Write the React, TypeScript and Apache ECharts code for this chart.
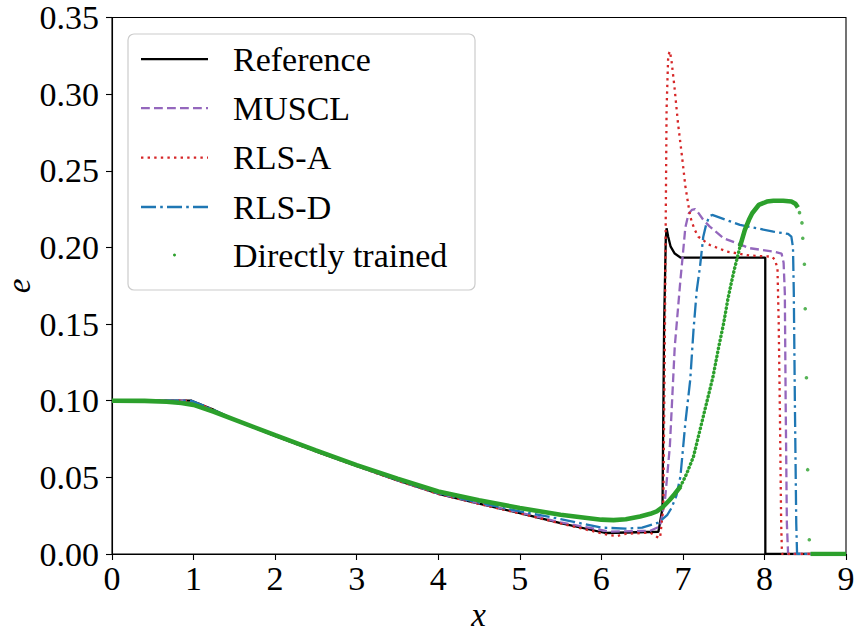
import React, { useEffect, useRef } from "react";
import * as echarts from "echarts";

const FONT = "Liberation Serif, serif";

// Reference (black solid)
const refX = [0, 0.975, 1.25, 1.5, 2, 2.5, 3, 3.5, 4, 4.5, 5, 5.5, 6.05, 6.7, 6.75, 6.77, 6.79, 6.8, 6.82, 6.85, 6.9, 6.97, 8.01, 8.011, 9];
const refE = [0.1, 0.1, 0.094, 0.0875, 0.0771, 0.067, 0.0574, 0.048, 0.0393, 0.0328, 0.0267, 0.0202, 0.0137, 0.0145, 0.03, 0.15, 0.205, 0.2125, 0.207, 0.2005, 0.196, 0.1934, 0.1934, 0, 0];

// MUSCL (purple dashed)
const muX = [0, 0.93, 1.03, 1.25, 1.5, 2, 2.5, 3, 3.5, 4, 4.5, 5, 5.5, 6.1, 6.6, 6.72, 6.78, 6.84, 6.9, 6.97, 6.99, 7.03, 7.07, 7.11, 7.15, 7.19, 7.25, 7.33, 7.5, 7.82, 8.11, 8.21, 8.235, 8.25, 8.26, 8.275, 8.29, 9];
const muE = [0.1, 0.1, 0.098, 0.0938, 0.0876, 0.0772, 0.0671, 0.0575, 0.0481, 0.0395, 0.033, 0.027, 0.0206, 0.0146, 0.0152, 0.018, 0.035, 0.07, 0.135, 0.179, 0.19, 0.213, 0.222, 0.2245, 0.225, 0.2225, 0.218, 0.2136, 0.206, 0.1995, 0.1973, 0.196, 0.19, 0.17, 0.1, 0.02, 0, 0];

// RLS-A (red dotted)
const raX = [0, 0.975, 1.25, 1.5, 2, 2.5, 3, 3.5, 4, 4.5, 5, 5.5, 6.1, 6.2, 6.3, 6.6, 6.68, 6.72, 6.76, 6.78, 6.8, 6.82, 6.84, 6.86, 6.9, 6.94, 6.99, 7.03, 7.09, 7.14, 7.19, 7.33, 7.54, 7.82, 8.09, 8.13, 8.16, 8.175, 8.19, 8.205, 8.215, 9];
const raE = [0.1, 0.1, 0.0938, 0.0874, 0.077, 0.0669, 0.0573, 0.0479, 0.0392, 0.0327, 0.0265, 0.0199, 0.0123, 0.0118, 0.0132, 0.0139, 0.0112, 0.0104, 0.03, 0.15, 0.29, 0.325, 0.328, 0.322, 0.303, 0.281, 0.259, 0.24, 0.22, 0.212, 0.207, 0.2016, 0.1973, 0.1947, 0.194, 0.192, 0.186, 0.15, 0.09, 0.02, 0, 0];

// RLS-D (blue dash-dot)
const rdX = [0, 0.975, 1.25, 1.5, 2, 2.5, 3, 3.5, 4, 4.5, 4.8, 5, 5.5, 6, 6.3, 6.5, 6.7, 6.81, 6.86, 6.92, 6.97, 7.03, 7.09, 7.13, 7.17, 7.21, 7.25, 7.29, 7.33, 7.36, 7.7, 8.11, 8.29, 8.33, 8.35, 8.36, 8.375, 8.39, 8.4, 9];
const rdE = [0.1, 0.1, 0.0939, 0.0875, 0.0772, 0.0672, 0.0577, 0.0484, 0.0398, 0.0335, 0.03, 0.0278, 0.0228, 0.0172, 0.0166, 0.0172, 0.0205, 0.0256, 0.03, 0.038, 0.0506, 0.0854, 0.1136, 0.146, 0.172, 0.1875, 0.207, 0.216, 0.2205, 0.2212, 0.2147, 0.2103, 0.2088, 0.207, 0.2, 0.17, 0.09, 0.02, 0, 0];

// Directly trained (green dots): dense part, steep part, plateau, sparse drop, tail
const gAX = [0, 0.4, 0.67, 0.85, 1, 1.25, 1.5, 2, 2.5, 3, 3.5, 4, 4.5, 5, 5.5, 6, 6.15, 6.3, 6.475, 6.6, 6.68, 6.76, 6.84, 6.9, 6.97];
const gAE = [0.1, 0.0999, 0.0993, 0.0985, 0.0973, 0.0928, 0.0877, 0.0775, 0.0676, 0.058, 0.0492, 0.0408, 0.0351, 0.03, 0.0256, 0.0224, 0.0221, 0.0227, 0.0245, 0.0262, 0.0278, 0.031, 0.0354, 0.0392, 0.044];
const gBX = [6.97, 7.05, 7.13, 7.21, 7.29, 7.37, 7.44, 7.5, 7.55, 7.59, 7.63, 7.66, 7.7];
const gBE = [0.044, 0.0528, 0.0636, 0.081, 0.0984, 0.1158, 0.1353, 0.1506, 0.1658, 0.176, 0.1855, 0.1918, 0.2005];
const gCX = [7.7, 7.76, 7.81, 7.85, 7.93, 8.03, 8.11, 8.23, 8.33, 8.38, 8.41];
const gCE = [0.2005, 0.2114, 0.218, 0.2223, 0.2277, 0.2299, 0.2305, 0.2305, 0.23, 0.2285, 0.226];
const gDotX = [8.43, 8.46, 8.47, 8.49, 8.5, 8.515, 8.53, 8.55];
const gDotE = [0.2227, 0.216, 0.206, 0.189, 0.16, 0.115, 0.055, 0.0093];
const gTailX = [8.565, 9];
const gTailE = [0, 0];

const legendNames = ["Reference", "MUSCL", "RLS-A", "RLS-D", "Directly trained"];
const xAxisName = "x";
const yAxisName = "e";

const BLACK = "#000000";
const PURPLE = "#9467bd";
const RED = "#d62728";
const BLUE = "#1f77b4";
const GREEN = "#2ca02c";

const LW = 2.3;
const DASHED = [8.8, 4.2];
const DOTTED = [2.4, 4.2];
const DASHDOT = [15, 4.2, 2.6, 4.2];

const zip = (xs: number[], ys: number[]) => xs.map((x, i) => [x, ys[i]]);

function lineSeries(name: string, xs: number[], ys: number[], color: string, type: any, width: number, extra: any = {}) {
  return {
    name,
    type: "line",
    data: zip(xs, ys),
    symbol: "none",
    showSymbol: false,
    lineStyle: { color, width, type, ...(extra.lineStyle || {}) },
    itemStyle: { color },
    emphasis: { disabled: true },
    z: extra.z ?? 2,
  };
}

export default function App() {
  const ref = useRef<HTMLDivElement>(null);

  useEffect(() => {
    if (!ref.current) return;
    const chart = echarts.init(ref.current, null, { renderer: "svg" });

    const legendY = [59.2, 108.2, 157.6, 207, 255.6];
    const legendStyles = [
      { color: BLACK, dash: null },
      { color: PURPLE, dash: DASHED },
      { color: RED, dash: DOTTED },
      { color: BLUE, dash: DASHDOT },
    ];

    const graphic: any[] = [
      {
        type: "rect",
        shape: { x: 128, y: 34, width: 347, height: 256, r: 6 },
        style: { fill: "rgba(255,255,255,0.85)", stroke: "#cccccc", lineWidth: 1.2 },
        z: 100,
      },
      {
        type: "text",
        x: 478.5,
        y: 614.5,
        style: {
          text: xAxisName,
          fontFamily: FONT,
          fontStyle: "italic",
          fontSize: 33,
          fill: "#000",
          align: "center",
          verticalAlign: "middle",
        },
        z: 101,
      },
      {
        type: "text",
        x: 19,
        y: 286,
        rotation: Math.PI / 2,
        style: {
          text: yAxisName,
          fontFamily: FONT,
          fontStyle: "italic",
          fontSize: 33,
          fill: "#000",
          align: "center",
          verticalAlign: "middle",
        },
        z: 101,
      },
    ];
    legendStyles.forEach((s, i) => {
      graphic.push({
        type: "line",
        shape: { x1: 141, y1: legendY[i], x2: 208, y2: legendY[i] },
        style: { stroke: s.color, lineWidth: LW, lineDash: s.dash || undefined },
        z: 101,
      });
    });
    graphic.push({
      type: "circle",
      shape: { cx: 174.5, cy: 255, r: 1.5 },
      style: { fill: GREEN },
      z: 101,
    });
    legendNames.forEach((n, i) => {
      graphic.push({
        type: "text",
        x: 233,
        y: legendY[i],
        style: {
          text: n,
          fontFamily: FONT,
          fontSize: 34,
          fill: "#000",
          align: "left",
          verticalAlign: "middle",
        },
        z: 101,
      });
    });

    const option: any = {
      animation: false,
      backgroundColor: "#ffffff",
      grid: {
        left: 112,
        right: 8,
        top: 17.5,
        bottom: 79,
        containLabel: false,
        outerBoundsMode: "none",
        show: true,
        borderColor: "#000",
        borderWidth: 1.1,
        backgroundColor: "transparent",
      },
      xAxis: {
        type: "value",
        min: 0,
        max: 9,
        interval: 1,
        axisLine: { show: true, onZero: false, lineStyle: { color: "#000", width: 1.1 } },
        axisTick: { show: true, length: 6, lineStyle: { color: "#000", width: 1.1 } },
        axisLabel: { fontFamily: FONT, fontSize: 34, color: "#000", margin: 7 },
        splitLine: { show: false },
      },
      yAxis: {
        type: "value",
        min: 0,
        max: 0.35,
        interval: 0.05,
        axisLine: { show: true, lineStyle: { color: "#000", width: 1.1 } },
        axisTick: { show: true, length: 6, lineStyle: { color: "#000", width: 1.1 } },
        axisLabel: {
          fontFamily: FONT,
          fontSize: 34,
          color: "#000",
          margin: 13,
          formatter: (v: number) => v.toFixed(2),
        },
        splitLine: { show: false },
      },
      graphic,
      series: [
        lineSeries("Reference", refX, refE, BLACK, "solid", LW),
        lineSeries("MUSCL", muX, muE, PURPLE, DASHED, LW),
        lineSeries("RLS-A", raX, raE, RED, DOTTED, LW),
        lineSeries("RLS-D", rdX, rdE, BLUE, DASHDOT, LW),
        lineSeries("Directly trained", gAX, gAE, GREEN, "solid", 4.6, { z: 3 }),
        lineSeries("Directly trained", gBX, gBE, GREEN, [0.5, 3.6], 3.4, { z: 3, lineStyle: { cap: "round" } }),
        lineSeries("Directly trained", gCX, gCE, GREEN, "solid", 4.6, { z: 3 }),
        {
          name: "Directly trained",
          type: "scatter",
          data: zip(gDotX, gDotE),
          symbol: "circle",
          symbolSize: 3.6,
          itemStyle: { color: GREEN },
          emphasis: { disabled: true },
          z: 3,
        },
        lineSeries("Directly trained", gTailX, gTailE, GREEN, "solid", 4.6, { z: 3 }),
      ],
    };

    chart.setOption(option);
    return () => chart.dispose();
  }, []);

  return (
    <div
      ref={ref}
      style={{ position: "fixed", left: 0, top: 0, width: 854, height: 633, background: "#fff" }}
    />
  );
}
